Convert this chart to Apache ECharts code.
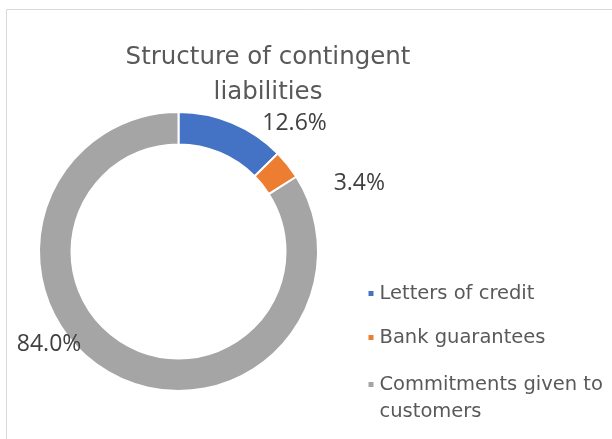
<!DOCTYPE html>
<html>
<head>
<meta charset="utf-8">
<script src="https://cdn.jsdelivr.net/npm/echarts@6/dist/echarts.min.js"></script>
<style>
  html, body { margin: 0; padding: 0; background: #ffffff; }
  #chart { width: 612px; height: 439px; }
</style>
</head>
<body>
<div id="chart"></div>
<script>
// Contingent liabilities breakdown (share of total, %)
const categories = ['Letters of credit', 'Bank guarantees', 'Commitments given to customers'];
const shares = [12.6, 3.4, 84.0];
// Legend text; the wrapped entry starts with an empty line so its marker sits beside the first text line
const legendLabels = ['Letters of credit', 'Bank guarantees', '\nCommitments given to\ncustomers'];

// Styling
const sliceColors = ['#4472C4', '#ED7D31', '#A5A5A5'];
const labelNudges = [[5, 1], [21, 19], [-5, -29]];

const chart = echarts.init(document.getElementById('chart'));

const titleFont = '"DejaVu Sans", sans-serif';
const legendFont = '"DejaVu Sans", sans-serif';
const legendLabel = name => legendLabels[categories.indexOf(name)];

const legendBase = {
  orient: 'vertical',
  left: 366.5,
  padding: 0,
  itemWidth: 7,
  itemHeight: 7,
  icon: 'rect',
  selectedMode: false,
  formatter: legendLabel
};

chart.setOption({
  animation: false,
  backgroundColor: '#ffffff',
  graphic: [{
    type: 'rect',
    shape: { x: 6.5, y: 9.5, width: 640, height: 460 },
    style: { fill: 'none', stroke: '#d9d9d9', lineWidth: 1 },
    silent: true
  }],
  title: {
    text: 'Structure of contingent\nliabilities',
    left: 263,
    top: 35,
    textAlign: 'center',
    textStyle: {
      fontFamily: titleFont,
      fontSize: 24.5,
      fontWeight: 'normal',
      color: '#595959',
      lineHeight: 35
    }
  },
  legend: [
    Object.assign({}, legendBase, {
      top: 281.5,
      itemGap: 20,
      textStyle: {
        fontFamily: legendFont,
        fontSize: 19.5,
        color: '#595959',
        lineHeight: 24
      },
      data: categories.slice(0, 2)
    }),
    Object.assign({}, legendBase, {
      top: 344,
      textStyle: {
        fontFamily: legendFont,
        fontSize: 19.5,
        color: '#595959',
        lineHeight: 27
      },
      data: categories.slice(2)
    })
  ],
  series: [{
    type: 'pie',
    center: [178.5, 251.5],
    radius: [107, 139.5],
    startAngle: 90,
    clockwise: true,
    avoidLabelOverlap: false,
    itemStyle: { borderColor: '#ffffff', borderWidth: 2 },
    label: {
      show: true,
      position: 'outside',
      formatter: p => p.value.toFixed(1) + '%',
      fontFamily: '"Open Sans", sans-serif',
      fontSize: 23,
      color: '#404040',
      distanceToLabelLine: 5
    },
    labelLine: { show: false, length: 0, length2: 20 },
    labelLayout: p => ({ dx: labelNudges[p.dataIndex][0], dy: labelNudges[p.dataIndex][1] }),
    emphasis: { disabled: true },
    data: categories.map((name, i) => ({
      name: name,
      value: shares[i],
      itemStyle: { color: sliceColors[i] }
    }))
  }]
});
</script>
</body>
</html>
